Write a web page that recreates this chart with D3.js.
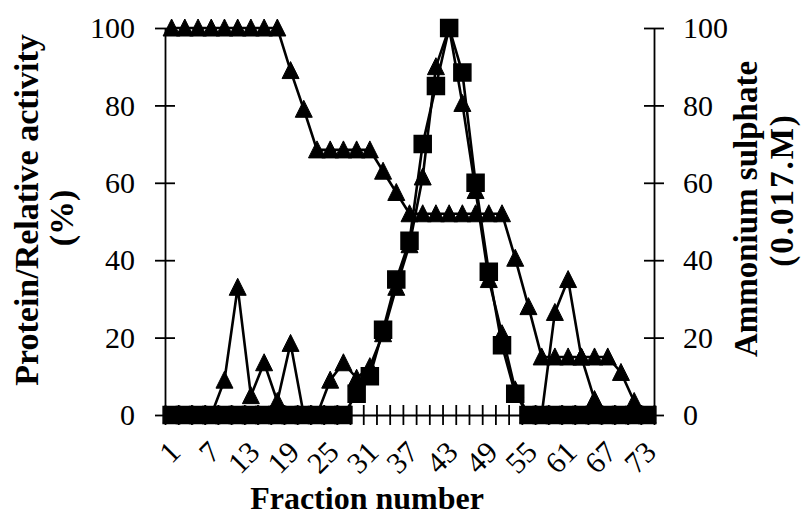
<!DOCTYPE html>
<html>
<head>
<meta charset="utf-8">
<script src="https://cdn.jsdelivr.net/npm/d3@7"></script>
<style>
	body { margin: 0; background: #fff; }
	svg { display: block; }
	text { font-family: "Liberation Serif", "Times New Roman", serif; fill: #000; }
</style>
</head>
<body>
<svg id="chart" width="801" height="516"></svg>
<script>
// fractions collected (every second one was measured)
var fractions = [1,3,5,7,9,11,13,15,17,19,21,23,25,27,29,31,33,35,37,39,41,43,45,47,49,51,53,55,57,59,61,63,65,67,69,71,73];
var labelFractions = [1,7,13,19,25,31,37,43,49,55,61,67,73];
var yTicks = [0,20,40,60,80,100];

// protein (%) - triangles
var protein = [0,0,0,0,9,33,5,13.5,3.5,18.5,0,0,9,13.5,9.5,12.5,21,33,44,61.5,90,100,80.5,58,35,21,6.5,0,0,26.5,35,15,4,0,0,0,0];
// relative activity (%) - squares
var activity = [0,0,0,0,0,0,0,0,0,0,0,0,0,0,5.5,10,22,35,45,70,85,100,88.5,60,37,18,5.5,0,0,0,0,0,0,0,0,0,0];
// ammonium sulphate gradient - triangles, right axis
var ammonium = [100,100,100,100,100,100,100,100,100,89,79,68.5,68.5,68.5,68.5,68.5,63,57.5,52,52,52,52,52,52,52,52,40.5,28,15,15,15,15,15,15,11,3.5,0];

var plotLeft = 165, plotRight = 654, plotTop = 28, plotBottom = 415;

var svg = d3.select("#chart");

var x = d3.scalePoint()
	.domain(fractions)
	.range([plotLeft, plotRight])
	.padding(0.5);
var xEdges = d3.scaleLinear()
	.domain([0, fractions.length])
	.range([plotLeft, plotRight]);
var y = d3.scaleLinear()
	.domain([0, 100])
	.range([plotBottom, plotTop]);

// axes
var gx = svg.append("g")
	.attr("transform", "translate(0," + plotBottom + ")")
	.call(d3.axisBottom(xEdges).tickValues(d3.range(0, fractions.length + 1)).tickFormat("").tickSizeOuter(0));
gx.selectAll(".tick line").attr("y1", -10).attr("y2", 10);

var gl = svg.append("g")
	.attr("transform", "translate(" + plotLeft + ",0)")
	.call(d3.axisLeft(y).tickValues(yTicks).tickSizeOuter(0).tickSizeInner(10).tickPadding(20));
gl.selectAll(".tick line").attr("x1", -10).attr("x2", 10);

var gr = svg.append("g")
	.attr("transform", "translate(" + plotRight + ",0)")
	.call(d3.axisRight(y).tickValues(yTicks).tickSizeOuter(0).tickSizeInner(10).tickPadding(19));
gr.selectAll(".tick line").attr("x1", -10).attr("x2", 10);

svg.selectAll(".domain, .tick line")
	.attr("stroke", "#000")
	.attr("stroke-width", 1.8);
gl.selectAll("text").style("font-size", "30px").attr("font-family", null);
gr.selectAll("text").style("font-size", "30px").attr("font-family", null);

// rotated category labels
var gLab = svg.append("g")
	.attr("transform", "translate(0," + plotBottom + ")")
	.call(d3.axisBottom(x).tickValues(labelFractions).tickSize(0).tickFormat(String));
gLab.select(".domain").remove();
gLab.selectAll("text")
	.attr("font-family", null)
	.style("font-size", "30px")
	.attr("text-anchor", "end")
	.attr("dy", null)
	.attr("y", 0)
	.attr("transform", "translate(10,39) rotate(-45)");

// series
var line = d3.line()
	.x(function(d, i) { return x(fractions[i]); })
	.y(function(d) { return y(d); });

var triangle = function(sel) {
	sel.attr("d", "M0,-9L8.5,8L-8.5,8Z")
		.attr("fill", "#000")
		.attr("stroke", "#000")
		.attr("stroke-width", 1);
};
var square = function(sel) {
	sel.attr("d", "M-8.5,-8.5H8.5V8.5H-8.5Z")
		.attr("fill", "#000")
		.attr("stroke", "#000")
		.attr("stroke-width", 1.5);
};

var drawSeries = function(values, marker) {
	var g = svg.append("g");
	g.append("path")
		.datum(values)
		.attr("fill", "none")
		.attr("stroke", "#000")
		.attr("stroke-width", 2.6)
		.attr("d", line);
	g.selectAll(".pt")
		.data(values)
		.enter().append("path")
			.attr("class", "pt")
			.attr("transform", function(d, i) { return "translate(" + x(fractions[i]) + "," + y(d) + ")"; })
			.call(marker);
};

drawSeries(protein, triangle);
drawSeries(ammonium, triangle);
drawSeries(activity, square);

// titles
svg.append("text")
	.attr("x", 367)
	.attr("y", 509)
	.attr("text-anchor", "middle")
	.style("font-size", "32px")
	.style("font-weight", "bold")
	.text("Fraction number");

var lt = svg.append("text")
	.attr("transform", "translate(38,210) rotate(-90)")
	.attr("text-anchor", "middle")
	.style("font-size", "34px")
	.style("font-weight", "bold");
lt.append("tspan").attr("x", 0).attr("y", 0).text("Protein/Relative activity");
lt.append("tspan").attr("x", -8).attr("y", 35).text("(%)");

var rt = svg.append("text")
	.attr("transform", "translate(757,209) rotate(-90)")
	.attr("text-anchor", "middle")
	.style("font-size", "33px")
	.style("font-weight", "bold");
rt.append("tspan").attr("x", 0).attr("y", 0).text("Ammonium sulphate");
rt.append("tspan").attr("x", 19).attr("y", 36).style("letter-spacing", "2px").text("(0.017.M)");
</script>
</body>
</html>
